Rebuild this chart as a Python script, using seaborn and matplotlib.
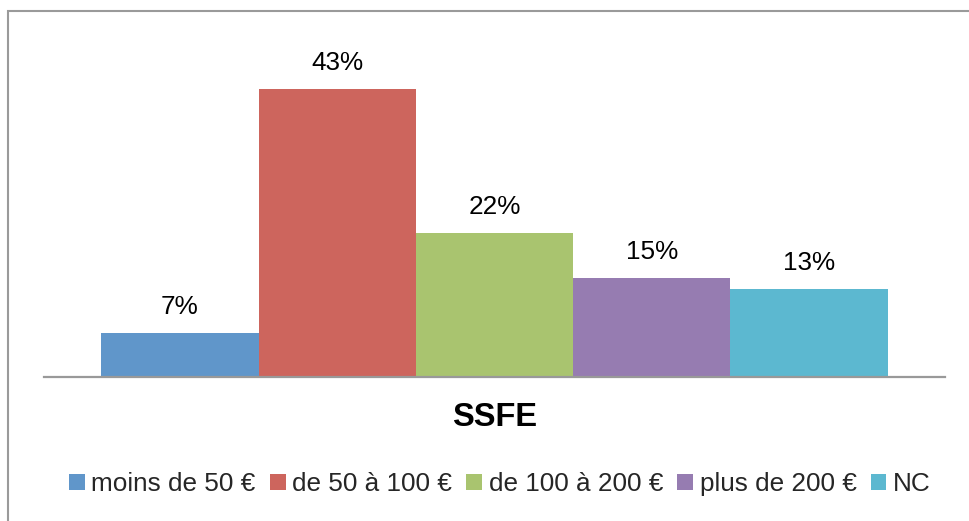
import pandas as pd
import matplotlib.pyplot as plt
import seaborn as sns
from matplotlib.patches import Patch, Rectangle

sns.set_theme(style="white")
plt.rcParams['font.family'] = ['Liberation Sans', 'DejaVu Sans']

group = "SSFE"
tranches = ["moins de 50 €", "de 50 à 100 €", "de 100 à 200 €", "plus de 200 €", "NC"]
values = [6.6, 43.0, 21.5, 14.8, 13.1]
labels = ["7%", "43%", "22%", "15%", "13%"]
colors = ["#6096ca", "#cd655d", "#a9c46f", "#967cb1", "#5cb8d0"]

df = pd.DataFrame({"groupe": [group] * len(tranches), "tranche": tranches, "valeur": values})

fig = plt.figure(figsize=(9.7, 5.21), dpi=100)
ax = fig.add_axes([44 / 970, 1 - 377 / 521, 901 / 970, 335 / 521])

sns.barplot(data=df, x="groupe", y="valeur", hue="tranche", hue_order=tranches,
            palette=colors, saturation=1, width=0.873, gap=0, linewidth=0,
            ax=ax, legend=False)

for cont, lab in zip(ax.containers, labels):
    ax.bar_label(cont, labels=[lab], padding=10, fontsize=18.8, color="#000000")

ax.set_xlim(-0.5, 0.5)
ax.set_ylim(0, 50)
ax.set_xlabel("")
ax.set_ylabel("")
ax.set_xticks([])
ax.set_yticks([])
for s in ["top", "left", "right"]:
    ax.spines[s].set_visible(False)
ax.spines["bottom"].set_color("#999999")
ax.spines["bottom"].set_linewidth(1.6)

fig.text(495 / 970, 1 - 417 / 521, group, ha="center", va="center",
         fontsize=23.5, fontweight="bold", color="#000000")

handles = [Patch(facecolor=c, edgecolor="none") for c in colors]
fig.legend(handles, tranches, loc="center", bbox_to_anchor=(500 / 970, 1 - 484 / 521),
           ncol=5, frameon=False, fontsize=18.8, handlelength=0.6, handleheight=0.6,
           handletextpad=0.25, columnspacing=0.55, borderaxespad=0)

# chart frame (cropped on right and bottom)
fig.patches.append(Rectangle((8 / 970, -0.2), 1.2, 1.2 - 11 / 521, transform=fig.transFigure,
                             fill=False, edgecolor="#9a9a9a", linewidth=1.5, figure=fig))

fig.savefig("out.png", dpi=100, facecolor="white")
